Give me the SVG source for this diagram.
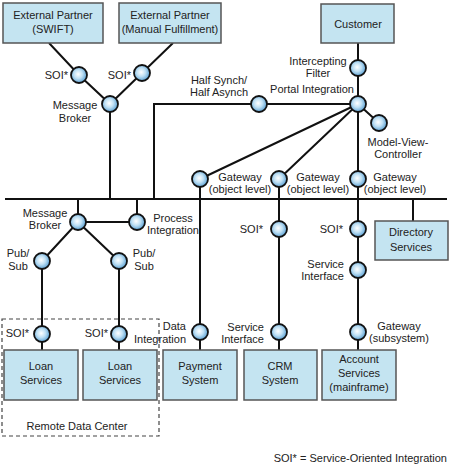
<svg xmlns="http://www.w3.org/2000/svg" width="450" height="472" viewBox="0 0 450 472">
<defs>
<radialGradient id="g" cx="0.45" cy="0.45" r="0.6">
<stop offset="0" stop-color="#ffffff"/>
<stop offset="0.45" stop-color="#bfe0f4"/>
<stop offset="1" stop-color="#4b97cf"/>
</radialGradient>
<style>
.box{fill:#c4e4f1;stroke:#555;stroke-width:1.5}
.c{fill:url(#g);stroke:#111;stroke-width:1.8}
.ln{stroke:#111;stroke-width:2;fill:none}
text{font-family:"Liberation Sans",Arial,sans-serif;font-size:11px;fill:#222}
.m{text-anchor:middle}
.e{text-anchor:end}
</style>
</defs>
<rect width="450" height="472" fill="#fff"/>
<g id="connectors">
<path class="ln" d="M49 43L79 75L110 104L142 73L173 43"/>
<path class="ln" d="M110 104V199"/>
<path class="ln" d="M154 199V104H358"/>
<path class="ln" d="M5 199H447"/>
<path class="ln" d="M358 43V350"/>
<path class="ln" d="M358 104L200 179M358 104L279 179M358 104L379 123"/>
<path class="ln" d="M200 179V350M279 179V350"/>
<path class="ln" d="M413 199V221"/>
<path class="ln" d="M78 199V222H137V199"/>
<path class="ln" d="M42 350V261L78 222L119 261V350"/>
</g>
<g id="remote-data-center">
<rect x="2" y="319" width="157" height="117" fill="none" stroke="#444" stroke-width="1.2" stroke-dasharray="4,3"/>
<text class="m" x="77" y="430">Remote Data Center</text>
</g>
<g id="ext-swift"><rect class="box" x="3" y="3" width="100" height="40"/><text class="m" x="53" y="19">External Partner</text><text class="m" x="53" y="33">(SWIFT)</text></g>
<g id="ext-manual"><rect class="box" x="119" y="3" width="102" height="40"/><text class="m" x="170" y="19">External Partner</text><text class="m" x="170" y="33">(Manual Fulfillment)</text></g>
<g id="customer"><rect class="box" x="321" y="4" width="73" height="39"/><text class="m" x="358" y="28">Customer</text></g>
<g id="directory"><rect class="box" x="375" y="221" width="73" height="39"/><text class="m" x="411" y="236">Directory</text><text class="m" x="411" y="251">Services</text></g>
<g id="loan1"><rect class="box" x="4" y="350" width="74" height="50"/><text class="m" x="41" y="370">Loan</text><text class="m" x="41" y="384">Services</text></g>
<g id="loan2"><rect class="box" x="83" y="350" width="74" height="50"/><text class="m" x="120" y="370">Loan</text><text class="m" x="120" y="384">Services</text></g>
<g id="payment"><rect class="box" x="163" y="350" width="74" height="50"/><text class="m" x="200" y="370">Payment</text><text class="m" x="200" y="384">System</text></g>
<g id="crm"><rect class="box" x="244" y="350" width="73" height="50"/><text class="m" x="280" y="370">CRM</text><text class="m" x="280" y="384">System</text></g>
<g id="account"><rect class="box" x="322" y="350" width="74" height="50"/><text class="m" x="359" y="363">Account</text><text class="m" x="359" y="377">Services</text><text class="m" x="359" y="391">(mainframe)</text></g>
<g id="soi-swift"><circle class="c" cx="79" cy="75" r="8"/><text class="e" x="68" y="79">SOI*</text></g>
<g id="soi-manual"><circle class="c" cx="142" cy="73" r="8"/><text class="e" x="131" y="79">SOI*</text></g>
<g id="msg-broker-top"><circle class="c" cx="110" cy="104" r="8"/><text class="m" x="75" y="109">Message</text><text class="m" x="75" y="122">Broker</text></g>
<g id="half-synch"><circle class="c" cx="259" cy="104" r="8"/><text class="m" x="219" y="84">Half Synch/</text><text class="m" x="219" y="96">Half Asynch</text></g>
<g id="intercepting"><circle class="c" cx="358" cy="68" r="8"/><text class="m" x="318" y="65">Intercepting</text><text class="m" x="318" y="77">Filter</text></g>
<g id="portal"><circle class="c" cx="358" cy="104" r="8"/><text class="m" x="312" y="93">Portal Integration</text></g>
<g id="mvc"><circle class="c" cx="379" cy="123" r="8"/><text class="m" x="398" y="146">Model-View-</text><text class="m" x="398" y="158">Controller</text></g>
<g id="gw1"><circle class="c" cx="200" cy="179" r="8"/><text class="m" x="240" y="181">Gateway</text><text class="m" x="240" y="193">(object level)</text></g>
<g id="gw2"><circle class="c" cx="279" cy="179" r="8"/><text class="m" x="318" y="181">Gateway</text><text class="m" x="318" y="193">(object level)</text></g>
<g id="gw3"><circle class="c" cx="358" cy="179" r="8"/><text class="m" x="395" y="181">Gateway</text><text class="m" x="395" y="193">(object level)</text></g>
<g id="msg-broker"><circle class="c" cx="78" cy="222" r="8"/><text class="m" x="45" y="217">Message</text><text class="m" x="45" y="229">Broker</text></g>
<g id="process"><circle class="c" cx="137" cy="222" r="8"/><text class="m" x="173" y="222">Process</text><text class="m" x="173" y="234">Integration</text></g>
<g id="pubsub1"><circle class="c" cx="42" cy="261" r="8"/><text class="m" x="18" y="257">Pub/</text><text class="m" x="18" y="270">Sub</text></g>
<g id="pubsub2"><circle class="c" cx="119" cy="261" r="8"/><text class="m" x="144" y="257">Pub/</text><text class="m" x="144" y="270">Sub</text></g>
<g id="soi-loan1"><circle class="c" cx="42" cy="334" r="8"/><text class="e" x="29" y="337">SOI*</text></g>
<g id="soi-loan2"><circle class="c" cx="119" cy="334" r="8"/><text class="e" x="108" y="337">SOI*</text></g>
<g id="data-int"><circle class="c" cx="200" cy="332" r="8"/><text class="e" x="186" y="330">Data</text><text class="e" x="186" y="343">Integration</text></g>
<g id="soi-crm"><circle class="c" cx="279" cy="229" r="8"/><text class="e" x="263" y="233">SOI*</text></g>
<g id="svc-crm"><circle class="c" cx="279" cy="332" r="8"/><text class="e" x="264" y="331">Service</text><text class="e" x="264" y="343">Interface</text></g>
<g id="soi-acct"><circle class="c" cx="358" cy="229" r="8"/><text class="e" x="343" y="233">SOI*</text></g>
<g id="svc-acct"><circle class="c" cx="358" cy="270" r="8"/><text class="e" x="344" y="268">Service</text><text class="e" x="344" y="280">Interface</text></g>
<g id="gw-sub"><circle class="c" cx="358" cy="332" r="8"/><text class="m" x="399" y="330">Gateway</text><text class="m" x="399" y="342">(subsystem)</text></g>
<g id="legend"><text class="e" x="447" y="462">SOI* = Service-Oriented Integration</text></g>
</svg>
